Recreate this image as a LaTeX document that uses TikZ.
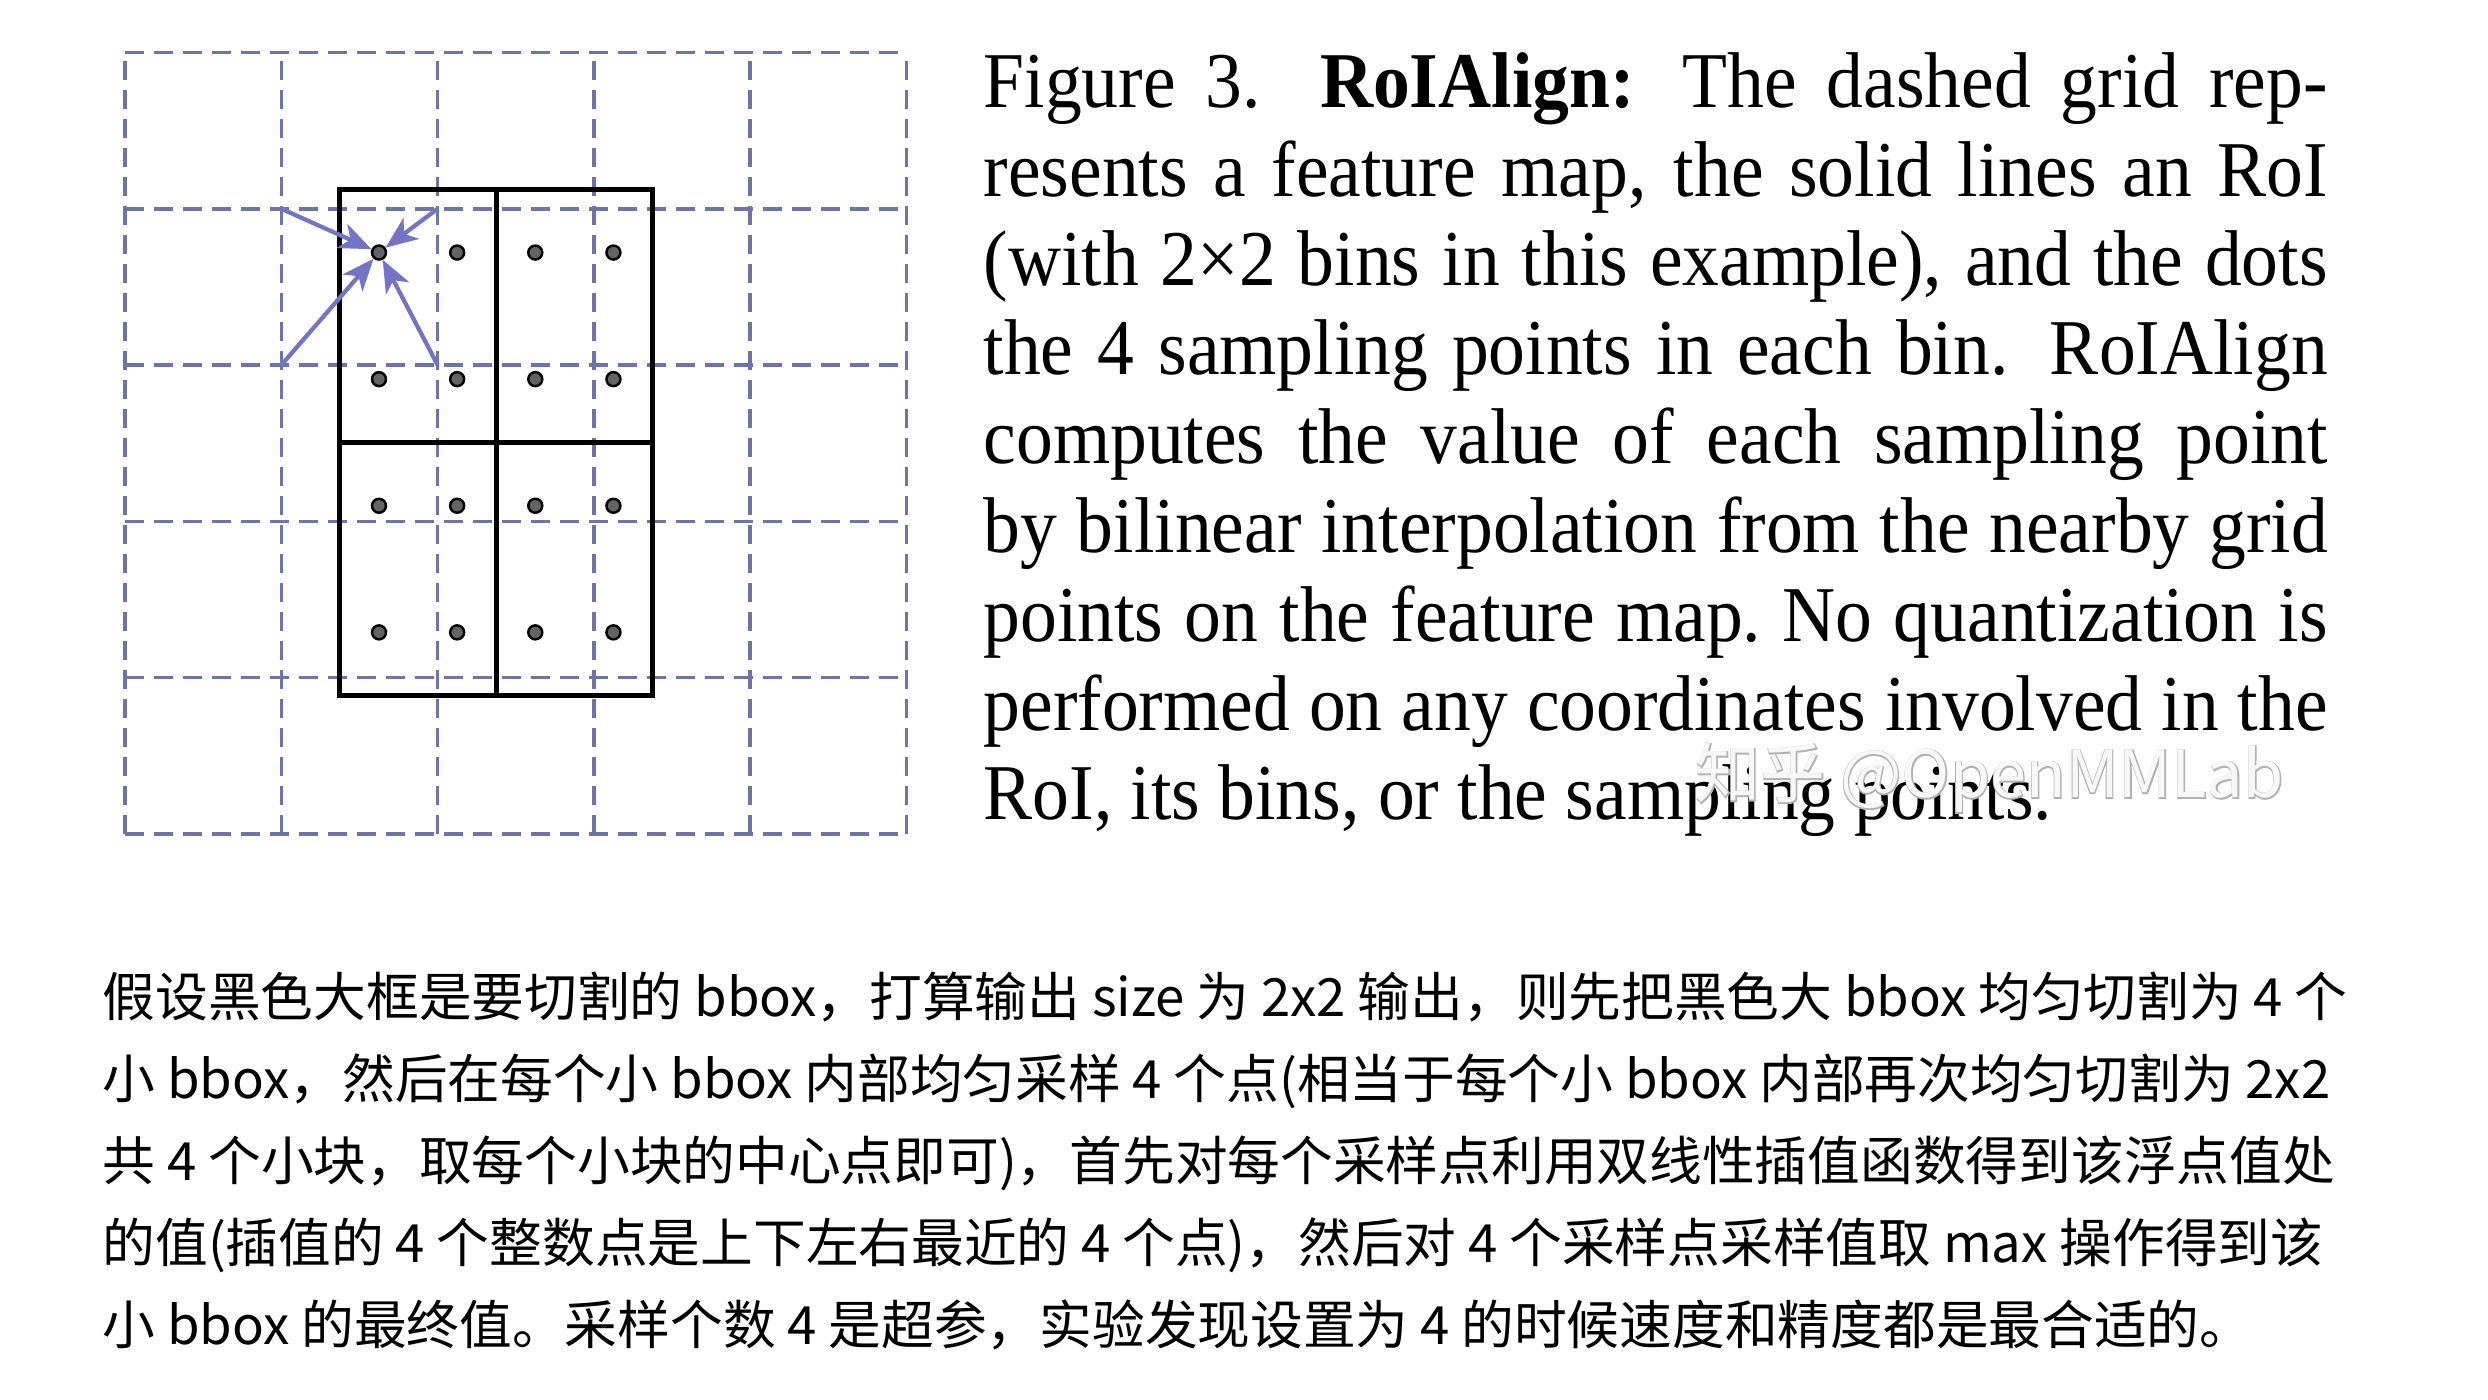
\documentclass[tikz,border=0pt]{standalone}
\usepackage{fontspec}
\newfontfamily\capfont[FakeStretch=0.93]{Liberation Serif}
\newfontfamily\cjkfont{Noto Sans CJK SC}
\newfontfamily\wmfont{Noto Sans CJK SC}
\newfontfamily\wmedgefont[FakeBold=3]{Noto Sans CJK SC}
\usetikzlibrary{arrows.meta}
\definecolor{gridblue}{RGB}{110,116,170}
\definecolor{arrowblue}{RGB}{116,116,198}
\definecolor{dotgray}{RGB}{100,100,100}
\tikzset{
  mapline/.style={gridblue, line width=1pt, dash pattern=on 0.19cm off 0.10cm},
  roiline/.style={black, line width=1.4pt},
  sample/.style={circle, draw=black, fill=dotgray, line width=0.7pt, inner sep=0pt, minimum size=0.14cm},
  interp/.style={arrowblue, line width=1.2pt, -{Stealth[length=0.32cm,width=0.26cm,inset=0.09cm]}},
  caption/.style={font=\capfont\fontsize{22.5}{25.3}\selectfont, text width=13.44cm, align=justify, inner sep=0pt, anchor=base west},
  zhtext/.style={font=\cjkfont\fontsize{15}{23.4}\selectfont, align=left, inner sep=0pt, anchor=base west},
  wmark/.style={inner sep=0pt, anchor=base west}
}
\begin{document}
\begin{tikzpicture}
\useasboundingbox (0,0) rectangle (24.88,14);
\fill[white] (0,0) rectangle (24.88,14);
% feature map and RoI
\begin{scope}[shift={(1.25,5.66)}, x=1.563cm, y=1.563cm]
\draw[mapline, step=1] (0,0) grid (5,5);
\draw[roiline] (1.375,0.885) rectangle (3.375,4.125);
\draw[roiline] (2.375,0.885) -- (2.375,4.125);
\draw[roiline] (1.375,2.505) -- (3.375,2.505);
% sampling points
\node[sample] (p11) at (1.625,3.72) {};
\node[sample] (p21) at (2.125,3.72) {};
\node[sample] (p31) at (2.625,3.72) {};
\node[sample] (p41) at (3.125,3.72) {};
\node[sample] (p12) at (1.625,2.91) {};
\node[sample] (p22) at (2.125,2.91) {};
\node[sample] (p32) at (2.625,2.91) {};
\node[sample] (p42) at (3.125,2.91) {};
\node[sample] (p13) at (1.625,2.10) {};
\node[sample] (p23) at (2.125,2.10) {};
\node[sample] (p33) at (2.625,2.10) {};
\node[sample] (p43) at (3.125,2.10) {};
\node[sample] (p14) at (1.625,1.29) {};
\node[sample] (p24) at (2.125,1.29) {};
\node[sample] (p34) at (2.625,1.29) {};
\node[sample] (p44) at (3.125,1.29) {};
% nearby grid points
\coordinate (ga) at (1,4);
\coordinate (gb) at (2,4);
\coordinate (gc) at (1,3);
\coordinate (gd) at (2,3);
\draw[interp] (ga) -- (p11);
\draw[interp] (gb) -- (p11);
\draw[interp] (gc) -- (p11);
\draw[interp] (gd) -- (p11);
\end{scope}
% caption
\node[caption] (cap) at (9.83,12.92) {Figure 3. \textbf{RoIAlign:} The dashed grid rep-\linebreak
resents a feature map, the solid lines an RoI\linebreak
(with 2×2 bins in this example), and the dots\linebreak
the 4 sampling points in each bin. RoIAlign\linebreak
computes the value of each sampling point\linebreak
by bilinear interpolation from the nearby grid\linebreak
points on the feature map.\ No quantization is\linebreak
performed on any coordinates involved in the\linebreak
RoI, its bins, or the sampling points.};
% watermark
\node[wmark, text=gray!60, font=\wmedgefont\fontsize{18.5}{20}\selectfont] (wmedge) at (16.95,6.02) {知乎 @OpenMMLab};
\node[wmark, text=white, opacity=0.9, font=\wmfont\fontsize{18.5}{20}\selectfont] (wm) at (16.95,6.02) {知乎 @OpenMMLab};
% note (base anchor sits on the last line)
\node[zhtext] (note) at (1.02,0.55) {假设黑色大框是要切割的 bbox，打算输出 size 为 2x2 输出，则先把黑色大 bbox 均匀切割为 4 个\\
小 bbox，然后在每个小 bbox 内部均匀采样 4 个点(相当于每个小 bbox 内部再次均匀切割为 2x2\\
共 4 个小块，取每个小块的中心点即可)，首先对每个采样点利用双线性插值函数得到该浮点值处\\
的值(插值的 4 个整数点是上下左右最近的 4 个点)，然后对 4 个采样点采样值取 max 操作得到该\\
小 bbox 的最终值。采样个数 4 是超参，实验发现设置为 4 的时候速度和精度都是最合适的。};
\end{tikzpicture}
\end{document}
